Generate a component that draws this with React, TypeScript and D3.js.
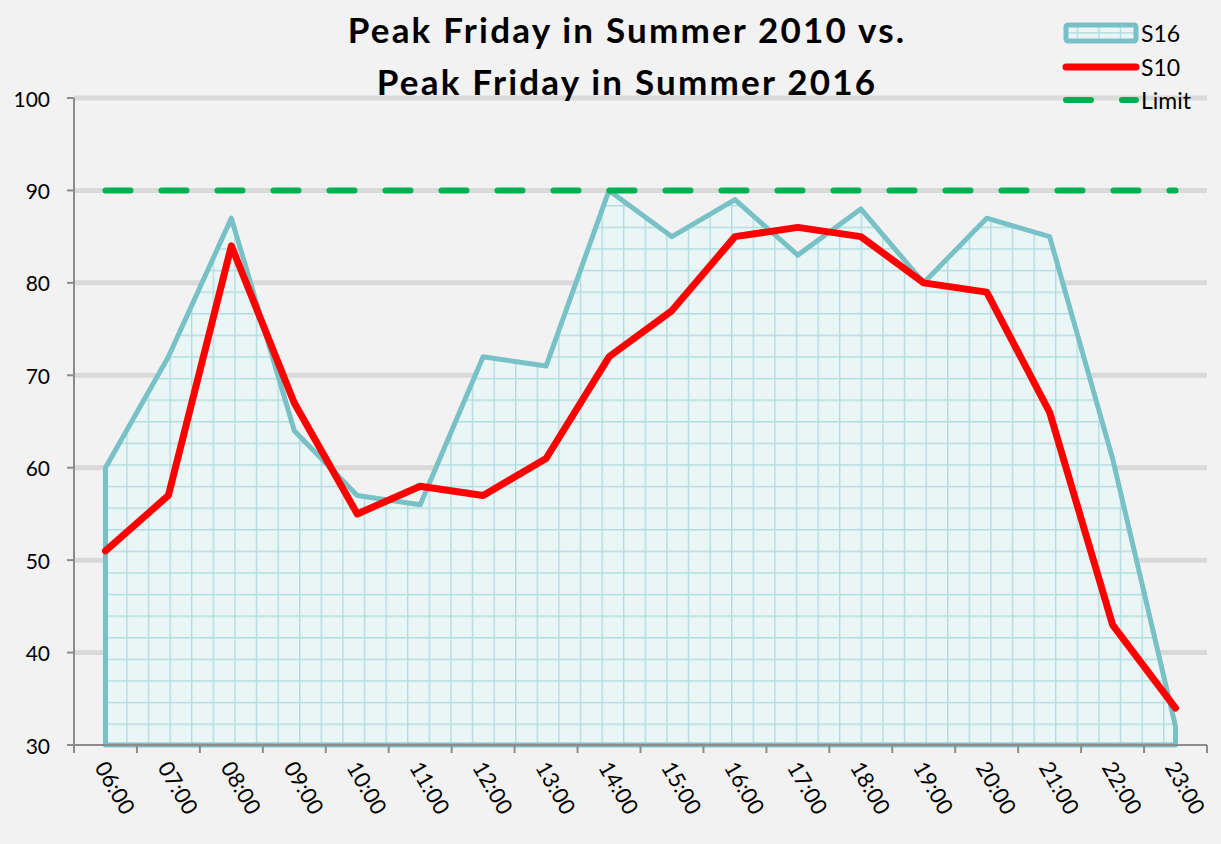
import * as d3 from "d3";

const hours = ["06:00", "07:00", "08:00", "09:00", "10:00", "11:00", "12:00", "13:00", "14:00", "15:00", "16:00", "17:00", "18:00", "19:00", "20:00", "21:00", "22:00", "23:00"];
const s16 = [60, 72, 87, 64, 57, 56, 72, 71, 90, 85, 89, 83, 88, 80, 87, 85, 61, 32];
const s10 = [51, 57, 84, 67, 55, 58, 57, 61, 72, 77, 85, 86, 85, 80, 79, 66, 43, 34];
const limit = hours.map(() => 90);
const yTicks = [30, 40, 50, 60, 70, 80, 90, 100];

const WIDTH = 1221;
const HEIGHT = 844;
const LEFT = 74;
const RIGHT = 1207;
const TOP = 98;
const BOTTOM = 745;
const FONT = "Lato, 'Noto Sans', sans-serif";

const TEAL = "#78c1c7";
const RED = "#ff0000";
const GREEN = "#00b050";

export default function App() {
	const x = d3.scaleBand<string>().domain(hours).range([LEFT, RIGHT]);
	const y = d3.scaleLinear().domain([30, 100]).range([BOTTOM, TOP]);
	const cx = (h: string) => (x(h) ?? 0) + x.bandwidth() / 2;

	const area = d3
		.area<number>()
		.x((_, i) => cx(hours[i]))
		.y0(y(30))
		.y1((d) => y(d));
	const line = d3
		.line<number>()
		.x((_, i) => cx(hours[i]))
		.y((d) => y(d));

	const bounds = [...hours.map((h) => x(h) ?? 0), RIGHT];

	return (
		<svg width={WIDTH} height={HEIGHT} style={{ display: "block", position: "absolute", left: 0, top: 0, background: "#f2f2f2" }}>
			<defs>
				<pattern id="grid" width={21.6} height={21.6} patternUnits="userSpaceOnUse" x={LEFT + 9} y={BOTTOM}>
					<rect width={21.6} height={21.6} fill="#eaf6f6" />
					<path d="M0 0H21.6M0 0V21.6" stroke="#b3dcdf" strokeWidth={2.8} fill="none" />
				</pattern>
			</defs>
			<rect width={WIDTH} height={HEIGHT} fill="#f2f2f2" />

			{/* gridlines */}
			{yTicks
				.filter((t) => t > 30)
				.map((t) => (
					<line key={t} x1={LEFT} x2={RIGHT} y1={y(t)} y2={y(t)} stroke="#d9d9d9" strokeWidth={5} />
				))}

			{/* S16 area */}
			<path d={area(s16) ?? ""} fill="url(#grid)" stroke={TEAL} strokeWidth={5} strokeLinejoin="round" />

			{/* limit */}
			<path d={line(limit) ?? ""} fill="none" stroke={GREEN} strokeWidth={6} strokeDasharray="25 31" strokeLinecap="round" />

			{/* S10 */}
			<path d={line(s10) ?? ""} fill="none" stroke={RED} strokeWidth={7} strokeLinejoin="round" strokeLinecap="round" />

			{/* y axis */}
			<line x1={LEFT} x2={LEFT} y1={TOP} y2={BOTTOM} stroke="#8c8c8c" strokeWidth={2} />
			{yTicks.map((t) => (
				<g key={t}>
					<line x1={LEFT - 7} x2={LEFT} y1={y(t)} y2={y(t)} stroke="#8c8c8c" strokeWidth={2} />
					<text x={50} y={y(t)} textAnchor="end" dominantBaseline="central" fontFamily={FONT} fontSize={21}>
						{t}
					</text>
				</g>
			))}

			{/* x axis */}
			<line x1={LEFT - 7} x2={RIGHT} y1={BOTTOM} y2={BOTTOM} stroke="#8c8c8c" strokeWidth={2} />
			{bounds.map((b, i) => (
				<line key={i} x1={b} x2={b} y1={BOTTOM} y2={BOTTOM + 8} stroke="#8c8c8c" strokeWidth={2} />
			))}
			{hours.map((h) => (
				<text
					key={h}
					transform={`translate(${cx(h) - 4},${BOTTOM + 18}) rotate(60)`}
					fontFamily={FONT}
					fontSize={22}
					dominantBaseline="central"
				>
					{h}
				</text>
			))}

			{/* title */}
			<text x={627} y={43} textAnchor="middle" fontFamily={FONT} fontWeight="bold" fontSize={35} letterSpacing={2.2}>
				Peak Friday in Summer 2010 vs.
			</text>
			<text x={627} y={95} textAnchor="middle" fontFamily={FONT} fontWeight="bold" fontSize={35} letterSpacing={2.2}>
				Peak Friday in Summer 2016
			</text>

			{/* legend */}
			<rect x={1066} y={25} width={70} height={16} rx={2} fill="url(#grid)" stroke={TEAL} strokeWidth={5} />
			<text x={1141} y={33} dominantBaseline="central" fontFamily={FONT} fontSize={23}>
				S16
			</text>
			<line x1={1066} x2={1136} y1={67} y2={67} stroke={RED} strokeWidth={7} strokeLinecap="round" />
			<text x={1141} y={67} dominantBaseline="central" fontFamily={FONT} fontSize={23}>
				S10
			</text>
			<line x1={1066} x2={1136} y1={100} y2={100} stroke={GREEN} strokeWidth={6} strokeDasharray="25 31" strokeLinecap="round" />
			<text x={1141} y={100} dominantBaseline="central" fontFamily={FONT} fontSize={23}>
				Limit
			</text>
		</svg>
	);
}
